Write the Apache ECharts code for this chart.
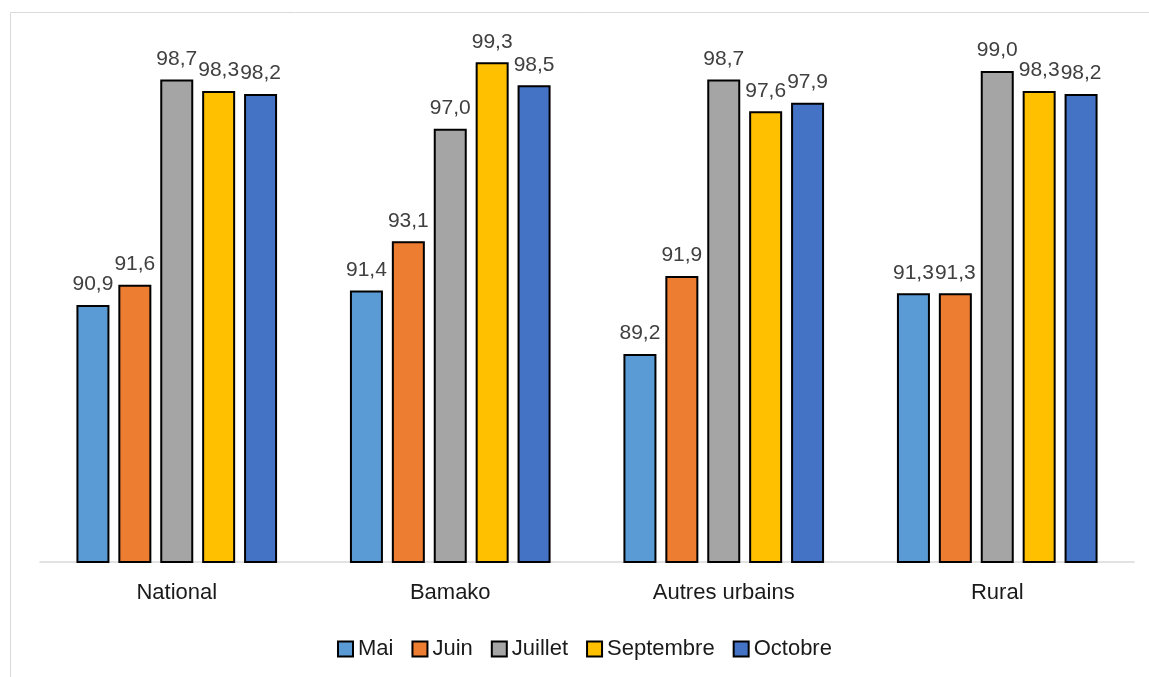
<!DOCTYPE html>
<html>
<head>
<meta charset="utf-8">
<script src="https://cdn.jsdelivr.net/npm/echarts@6/dist/echarts.min.js"></script>
<style>html,body{margin:0;padding:0;background:#fff}#c{width:1149px;height:677px}</style>
</head>
<body>
<div id="c"></div>
<script>
const categories = ['National', 'Bamako', 'Autres urbains', 'Rural'];
const seriesNames = ['Mai', 'Juin', 'Juillet', 'Septembre', 'Octobre'];
const mai = [90.9, 91.4, 89.2, 91.3];
const juin = [91.6, 93.1, 91.9, 91.3];
const juillet = [98.7, 97.0, 98.7, 99.0];
const septembre = [98.3, 99.3, 97.6, 98.3];
const octobre = [98.2, 98.5, 97.9, 98.2];
const colors = ['#5B9BD5', '#ED7D31', '#A5A5A5', '#FFC000', '#4472C4'];
const values = [mai, juin, juillet, septembre, octobre];

const FONT = '"Liberation Sans", Arial, sans-serif';
const chart = echarts.init(document.getElementById('c'), null, {renderer: 'canvas'});
chart.setOption({
  animation: false,
  backgroundColor: '#fff',
  graphic: [{
    type: 'rect', silent: true, z: -10,
    shape: {x: 10.5, y: 12.5, width: 1200, height: 700},
    style: {fill: 'none', stroke: '#d9d9d9', lineWidth: 1}
  }],
  grid: {left: 40, right: 15, top: 42, bottom: 115, containLabel: false},
  legend: {
    left: 332, top: 633,
    itemWidth: 15, itemHeight: 15, itemGap: 18,
    icon: 'rect',
    textStyle: {fontFamily: FONT, fontSize: 22, color: '#1a1a1a'},
    data: seriesNames
  },
  xAxis: {
    type: 'category', data: categories,
    axisLine: {lineStyle: {color: '#d9d9d9', width: 1.5}},
    axisTick: {show: false},
    axisLabel: {fontFamily: FONT, fontSize: 22, color: '#1a1a1a', margin: 20}
  },
  yAxis: {
    type: 'value', min: 82, max: 100, show: false,
    splitLine: {show: false}
  },
  series: seriesNames.map((n, i) => ({
    name: n, type: 'bar', data: values[i],
    barWidth: 33, barGap: '27%',
    itemStyle: {color: colors[i], borderColor: '#000', borderWidth: 2},
    label: {
      show: true, position: 'top', distance: 10,
      fontFamily: FONT, fontSize: 21, color: '#404040',
      formatter: p => p.value.toFixed(1).replace('.', ',')
    }
  }))
});
</script>
</body>
</html>
